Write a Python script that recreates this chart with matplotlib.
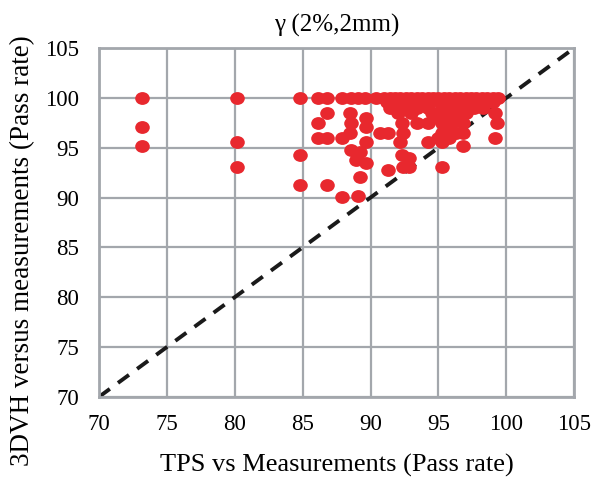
import matplotlib
matplotlib.use("Agg")
import matplotlib.pyplot as plt
from matplotlib.path import Path
import numpy

plt.rcParams['font.family'] = ['Liberation Serif', 'DejaVu Serif']

RED = '#e8282e'
GRID = '#a3a7ac'

# TPS vs measurements pass rate (x) and 3DVH vs measurements pass rate (y)
tps = [73.2, 80.2, 84.8, 86.1, 86.8, 87.9, 88.6, 89.1, 89.6, 90.4, 91.0, 91.4,
       91.8, 92.2, 92.6, 93.0, 93.4, 93.8, 94.2, 94.6, 95.0, 95.4, 95.8, 96.2,
       96.6, 97.0, 97.4, 97.8, 98.2, 98.6, 99.0, 99.4,
       91.2, 92.0, 92.8, 93.6, 94.4, 95.2, 96.0, 96.8, 97.6, 98.4, 99.0,
       91.4, 92.6, 93.4, 94.2, 95.3, 96.0, 96.8, 97.6, 98.3,
       86.8, 88.5, 92.0, 93.0, 94.5, 95.5, 96.2, 97.0, 99.2,
       89.7, 95.0, 95.8, 96.6,
       86.1, 88.6, 92.3, 93.4, 94.2, 95.3, 96.0, 96.8, 99.3,
       73.2, 89.7, 95.6,
       88.5, 90.7, 91.3, 92.4, 95.3, 96.3, 96.8,
       86.1, 86.8, 87.9, 95.0, 95.8, 99.2,
       80.2, 89.7, 92.2, 94.2, 95.3,
       73.2, 96.8,
       88.6, 89.2, 84.8, 92.3, 92.8, 88.9, 89.7,
       80.2, 92.4, 92.8, 95.3,
       91.3, 89.2, 84.8, 86.8, 87.9, 89.1]
dvh = [100.0] * 32 + \
      [99.6] * 11 + \
      [99.0] * 9 + \
      [98.5] * 9 + \
      [98.0] * 4 + \
      [97.5] * 9 + \
      [97.1] * 3 + \
      [96.5] * 7 + \
      [96.0] * 6 + \
      [95.6] * 5 + \
      [95.2] * 2 + \
      [94.8, 94.6, 94.3, 94.3, 94.0, 93.8, 93.5] + \
      [93.1] * 4 + \
      [92.8, 92.1, 91.3, 91.3, 90.1, 90.2]

# slightly wide elliptical dot
circ = Path.unit_circle()
ellipse = Path(circ.vertices * [1.0, 0.88], circ.codes)

fig = plt.figure(figsize=(5.92, 4.8), dpi=100)
ax = fig.add_axes([0.167, 0.173, 0.803, 0.727])

ax.plot([70, 105], [70, 105], '--', color='#1a1a1a', lw=2.8, dashes=(3.5, 2.6), zorder=2)
ax.plot(tps, dvh, linestyle='none', marker=ellipse, color=RED, ms=10.5, mew=0, zorder=3)

ax.set_xlim(70, 105)
ax.set_ylim(70, 105)
ax.set_xticks(numpy.arange(70, 106, 5))
ax.set_yticks(numpy.arange(70, 106, 5))
ax.grid(True, color=GRID, lw=1.6)
ax.set_axisbelow(True)
for s in ax.spines.values():
    s.set_color(GRID)
    s.set_linewidth(2)
ax.tick_params(length=0, labelsize=16.5)
ax.tick_params(axis='x', pad=12)
ax.tick_params(axis='y', pad=14)

ax.set_title('\u03b3 (2%,2mm)', fontsize=18, pad=12)
ax.set_xlabel('TPS vs Measurements (Pass rate)', fontsize=19, labelpad=14)
ax.set_ylabel('3DVH versus measurements (Pass rate)', fontsize=19.5, labelpad=6)
ax.yaxis.set_label_coords(-0.135, 0.42)

fig.savefig('out.png', dpi=100)
